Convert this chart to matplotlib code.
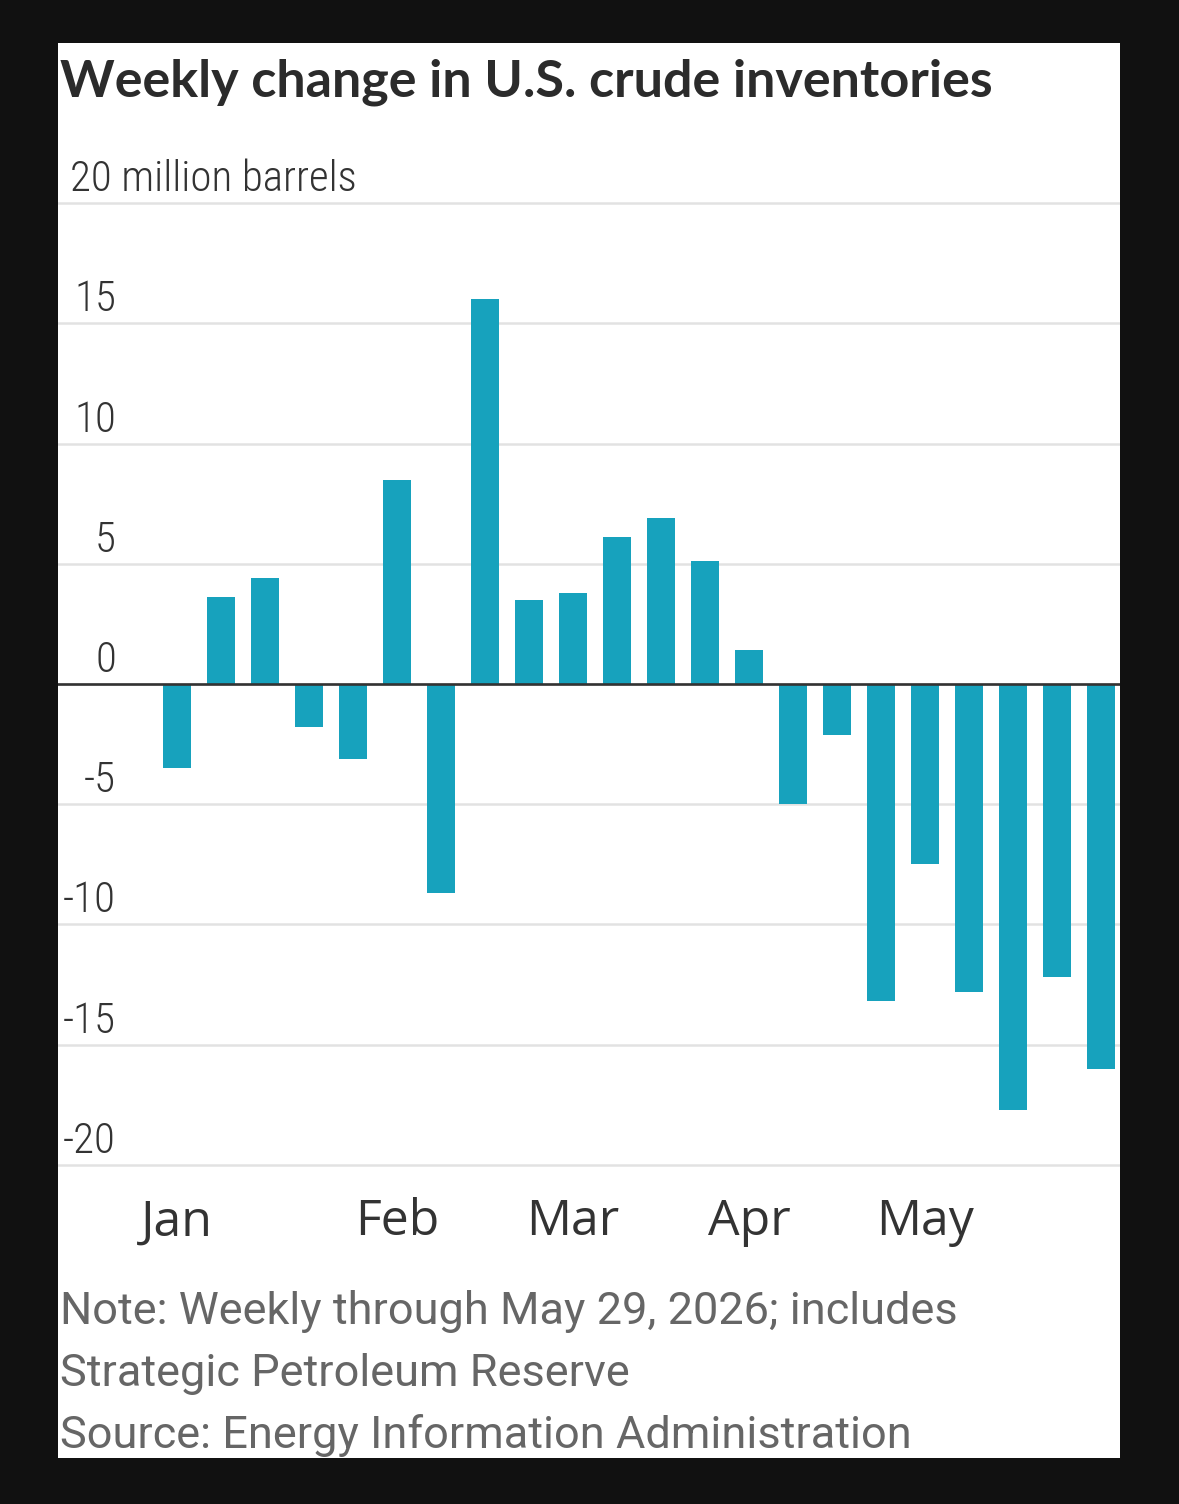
import matplotlib
matplotlib.use("Agg")
import matplotlib.pyplot as plt
import matplotlib.transforms as mtransforms
from matplotlib.patches import Rectangle

# weekly change, million barrels (22 weeks through May 29, 2026)
values = [-3.5, 3.6, 4.4, -1.8, -3.1, 8.5, -8.7, 16.0, 3.5, 3.8, 6.1,
          6.9, 5.1, 1.4, -5.0, -2.1, -13.2, -7.5, -12.8, -17.7, -12.2, -16.0]
weeks = list(range(len(values)))
month_pos = [0, 5, 9, 13, 17]
month_labels = ["Jan", "Feb", "Mar", "Apr", "May"]
yticks = [20, 15, 10, 5, 0, -5, -10, -15, -20]

title = "Weekly change in U.S. crude inventories"
notes = ["Note: Weekly through May 29, 2026; includes",
         "Strategic Petroleum Reserve",
         "Source: Energy Information Administration"]

narrow = ["Roboto Condensed", "Open Sans Condensed", "DejaVu Sans"]
note_font = ["Roboto", "DejaVu Sans"]
W, H = 1179, 1504

fig = plt.figure(figsize=(W / 100, H / 100), dpi=100, facecolor="#111111")
# white card behind everything
fig.patches.append(Rectangle((58 / W, (H - 1458) / H), (1120 - 58) / W, (1458 - 43) / H,
                             transform=fig.transFigure, facecolor="white",
                             edgecolor="none", zorder=-5))

ax = fig.add_axes([58 / W, (H - 1177) / H, (1120 - 58) / W, (1177 - 191) / H])
ax.set_facecolor("none")
ax.bar(weeks, values, width=0.64, color="#17a2bd", zorder=2)
ax.axhline(0, color="#333333", lw=1.9, zorder=3)
ax.set_ylim(-20.5, 20.5)
ax.set_xlim(-2.7, 21.43)
ax.set_yticks(yticks)
ax.yaxis.grid(True, color="#e2e2e2", lw=1.8)
ax.set_axisbelow(True)
ax.tick_params(axis="y", length=0, labelleft=False)
ax.tick_params(axis="x", length=0, pad=15, labelsize=36, labelcolor="#333333")
ax.set_xticks(month_pos)
ax.set_xticklabels(month_labels, family=["Open Sans", "DejaVu Sans"])
for s in ax.spines.values():
    s.set_visible(False)

# y labels sit above their gridlines
trans = mtransforms.blended_transform_factory(ax.transAxes, ax.transData) + \
    mtransforms.ScaledTranslation(0, 12 / 100, fig.dpi_scale_trans)
xr = (116 - 58) / (1120 - 58)
for v in yticks:
    if v == 20:
        ax.text((70 - 58) / (1120 - 58), v, "20 million barrels", transform=trans,
                ha="left", va="baseline", fontsize=31, color="#333333",
                family=narrow, fontweight="light")
    else:
        ax.text(xr, v, str(v), transform=trans, ha="right", va="baseline",
                fontsize=31, color="#333333", family=narrow, fontweight="light")

fig.text(60 / W, (H - 97) / H, title, fontsize=37.5, fontweight="bold",
         color="#2b2b2b", family=["Lato", "DejaVu Sans"], va="baseline")

for i, line in enumerate(notes):
    fig.text(60 / W, (H - 1324 - i * 62) / H, line, fontsize=32.5, color="#666666",
             family=note_font, fontweight="normal", va="baseline")

fig.savefig("out.png", dpi=100, facecolor=fig.get_facecolor())
